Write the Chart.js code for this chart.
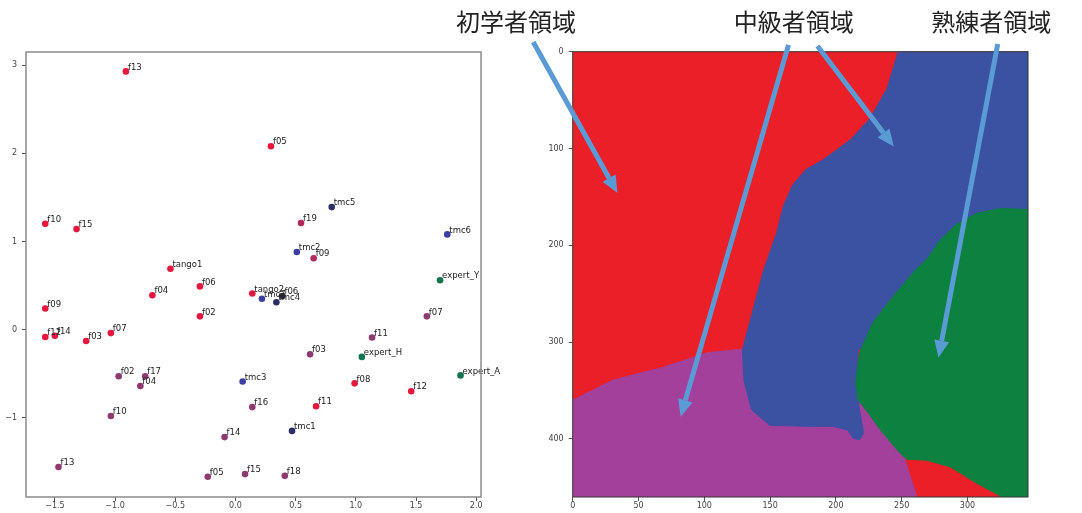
<!DOCTYPE html>
<html>
<head>
<meta charset="utf-8">
<script src="https://cdn.jsdelivr.net/npm/chart.js@4.4.0/dist/chart.umd.min.js"></script>
<style>
  html, body { margin: 0; padding: 0; background: #fff; }
  #wrap { position: relative; width: 1082px; height: 513px; overflow: hidden; }
  #leftChart { position: absolute; left: 0; top: 0; }
  #rightChart { position: absolute; left: 420px; top: 0; }
</style>
</head>
<body>
<div id="wrap">
  <canvas id="leftChart" width="520" height="513"></canvas>
  <canvas id="rightChart" width="662" height="513"></canvas>
</div>
<script>
// ---- left plot: 2D embedding of the players ----
const pointNames = ['f13','f05','f10','f15','tango1','tmc5','f19','tmc6','tmc2','f09','expert_Y',
  'f06','f04','f09','f12','f14','f03','f07','f02',
  'f02','f17','f04','f10','f13','f05','f14','tmc3','f16','f15','f18','tmc1',
  'f11','f08','f12','expert_A','expert_H','f03','f11','f07',
  'tango2','tmc7','tmc4','f06'];
const pointX = [-0.91, 0.295, -1.58, -1.32, -0.54, 0.80, 0.545, 1.76, 0.51, 0.65, 1.70,
  -0.295, -0.69, -1.58, -1.58, -1.50, -1.24, -1.035, -0.295,
  -0.97, -0.75, -0.79, -1.035, -1.47, -0.23, -0.09, 0.06, 0.14, 0.08, 0.41, 0.47,
  0.67, 0.99, 1.46, 1.87, 1.05, 0.62, 1.135, 1.59,
  0.14, 0.22, 0.34, 0.39];
const pointY = [2.93, 2.08, 1.20, 1.14, 0.69, 1.39, 1.21, 1.08, 0.88, 0.81, 0.56,
  0.49, 0.39, 0.24, -0.085, -0.07, -0.13, -0.04, 0.15,
  -0.53, -0.53, -0.64, -0.98, -1.56, -1.67, -1.22, -0.59, -0.88, -1.64, -1.66, -1.15,
  -0.87, -0.61, -0.70, -0.52, -0.31, -0.28, -0.09, 0.15,
  0.41, 0.35, 0.31, 0.38];
const pointGroup = ['r','r','r','r','r','n','rp','b','b','rp','g',
  'r','r','r','r','r','r','r','r',
  'p','p','p','p','p','p','p','b','p','p','p','n',
  'r','r','r','g','g','p','p','p',
  'r','b','n','k'];
const xTicksLeft = [-1.5, -1.0, -0.5, 0.0, 0.5, 1.0, 1.5, 2.0];
const yTicksLeft = [-1, 0, 1, 2, 3];

// ---- right plot: decision regions (image pixel coordinates) ----
const redBackground = [[0,0],[346,0],[346,460],[0,460]];
const purpleRegion = [[0,360],[31,339],[69,326],[102,311],[131,307],[211,318],[222,335],[232,380],[252,417],[262,460],[0,460]];
const blueRegion = [[247,0],[346,0],[346,300],[228,300],[217,308],[215,344],[218,370],[221,394],
  [218,401],[213,399],[209,391],[198,387],[180,387],[150,386],[136,370],[130,339],[129,308],[135,277],
  [145,226],[155,187],[160,160],[167,138],[177,122],[190,112],[211,91],[226,69],[238,40]];
const greenRegion = [[346,163],[325,162],[307,167],[291,179],[279,195],[270,213],[260,226],[241,257],
  [228,280],[218,311],[215,342],[217,360],[224,372],[234,391],[247,412],[256,424],[272,460],[346,460]];
const redCorner = [[253,422],[269,423],[287,430],[306,446],[325,460],[262,460]];
const xTicksRight = [0, 50, 100, 150, 200, 250, 300];
const yTicksRight = [0, 100, 200, 300, 400];

const regionTitles = ['初学者領域', '中級者領域', '熟練者領域'];
const titleX = [-43, 168, 318];
const titleY = -31;
const arrowTails = [[-30,-10],[164,-7],[186,-6],[323,-8]];
const arrowTips = [[34,146],[82,377],[244,98],[278,316]];

const groupColors = { r: '#e5173f', rp: '#b02a5c', p: '#8e3a70', b: '#3c3fa2', n: '#2c2f66', g: '#157450', k: '#2a2a3a' };
const minus = s => s.replace('-', '\u2212');

const frameBorder = {
  id: 'frameBorder',
  afterDraw(chart, args, opts) {
    const {ctx, chartArea: a} = chart;
    ctx.save();
    ctx.strokeStyle = opts.color;
    ctx.lineWidth = opts.width;
    ctx.strokeRect(a.left, a.top, a.right - a.left, a.bottom - a.top);
    ctx.restore();
  }
};

const pointLabels = {
  id: 'pointLabels',
  afterDatasetsDraw(chart) {
    const ctx = chart.ctx;
    const meta = chart.getDatasetMeta(0);
    ctx.save();
    ctx.font = '8.5px "DejaVu Sans"';
    ctx.fillStyle = '#222';
    ctx.textBaseline = 'middle';
    meta.data.forEach((pt, i) => {
      ctx.fillText(pointNames[i], pt.x + 2, pt.y - 4);
    });
    ctx.restore();
  }
};

function tickAxis(values, fmt) {
  return {
    afterBuildTicks: s => { s.ticks = values.map(v => ({ value: v })); },
    ticks: { font: { size: 8, family: 'DejaVu Sans' }, color: '#444', padding: 2, callback: fmt },
    grid: { display: true, drawOnChartArea: false, drawTicks: true, tickLength: 4, color: '#555' },
    border: { display: false }
  };
}

const leftX = Object.assign(tickAxis(xTicksLeft, v => minus(v.toFixed(1))), {
  type: 'linear', min: -1.74, max: 2.04, afterFit: s => { s.height = 16; }
});
leftX.ticks.padding = 0;
const leftY = Object.assign(tickAxis(yTicksLeft, v => minus(String(v))), {
  type: 'linear', min: -1.9, max: 3.15, afterFit: s => { s.width = 26; }
});
leftY.ticks.padding = 5;

new Chart(document.getElementById('leftChart'), {
  type: 'scatter',
  data: {
    datasets: [{
      data: pointX.map((x, i) => ({ x: x, y: pointY[i] })),
      backgroundColor: pointGroup.map(g => groupColors[g]),
      borderWidth: 0,
      pointRadius: 3.3
    }]
  },
  options: {
    responsive: false,
    animation: false,
    devicePixelRatio: 1,
    layout: { padding: { left: 0, top: 52, right: 39, bottom: 0 } },
    plugins: {
      legend: { display: false },
      tooltip: { enabled: false },
      frameBorder: { color: '#8a8a8a', width: 1.5 }
    },
    scales: { x: leftX, y: leftY }
  },
  plugins: [frameBorder, pointLabels]
});

// ---- right chart ----
const annotations = {
  id: 'annotations',
  afterDraw(chart) {
    const {ctx, scales: {x, y}} = chart;
    ctx.save();
    ctx.font = '24px "Noto Sans CJK JP"';
    ctx.fillStyle = '#222';
    ctx.textAlign = 'center';
    ctx.textBaseline = 'middle';
    regionTitles.forEach((t, i) => {
      ctx.fillText(t, x.getPixelForValue(titleX[i]), y.getPixelForValue(titleY));
    });
    const col = '#5b9bd5';
    arrowTails.forEach((tail, i) => {
      const x1 = x.getPixelForValue(tail[0]), y1 = y.getPixelForValue(tail[1]);
      const x2 = x.getPixelForValue(arrowTips[i][0]), y2 = y.getPixelForValue(arrowTips[i][1]);
      const ang = Math.atan2(y2 - y1, x2 - x1);
      const hl = 17, hw = 7.5;
      const bx = x2 - hl * Math.cos(ang), by = y2 - hl * Math.sin(ang);
      ctx.strokeStyle = col;
      ctx.lineWidth = 5;
      ctx.beginPath();
      ctx.moveTo(x1, y1);
      ctx.lineTo(bx, by);
      ctx.stroke();
      ctx.fillStyle = col;
      ctx.beginPath();
      ctx.moveTo(x2, y2);
      ctx.lineTo(bx + hw * Math.sin(ang), by - hw * Math.cos(ang));
      ctx.lineTo(bx - hw * Math.sin(ang), by + hw * Math.cos(ang));
      ctx.closePath();
      ctx.fill();
    });
    ctx.restore();
  }
};

const region = (pts, color) => ({
  data: pts.map(p => ({ x: p[0], y: p[1] })),
  showLine: true,
  fill: 'shape',
  backgroundColor: color,
  borderColor: color,
  borderWidth: 1,
  pointRadius: 0,
  tension: 0
});

const rightX = Object.assign(tickAxis(xTicksRight, v => String(v)), {
  type: 'linear', min: 0, max: 346, afterFit: s => { s.height = 16; }
});
rightX.ticks.padding = 0;
const rightY = Object.assign(tickAxis(yTicksRight, v => String(v)), {
  type: 'linear', min: 0, max: 460, reverse: true, afterFit: s => { s.width = 30; }
});
rightY.ticks.padding = 5;

new Chart(document.getElementById('rightChart'), {
  type: 'scatter',
  data: {
    datasets: [
      region(redCorner, '#ea1f28'),
      region(greenRegion, '#0c8140'),
      region(blueRegion, '#3b52a3'),
      region(purpleRegion, '#a2409b'),
      region(redBackground, '#ea1f28')
    ]
  },
  options: {
    responsive: false,
    animation: false,
    devicePixelRatio: 1,
    layout: { padding: { left: 122.7, top: 51.7, right: 54, bottom: 0 } },
    plugins: {
      legend: { display: false },
      tooltip: { enabled: false },
      frameBorder: { color: '#333', width: 1 }
    },
    scales: { x: rightX, y: rightY }
  },
  plugins: [frameBorder, annotations]
});
</script>
</body>
</html>
